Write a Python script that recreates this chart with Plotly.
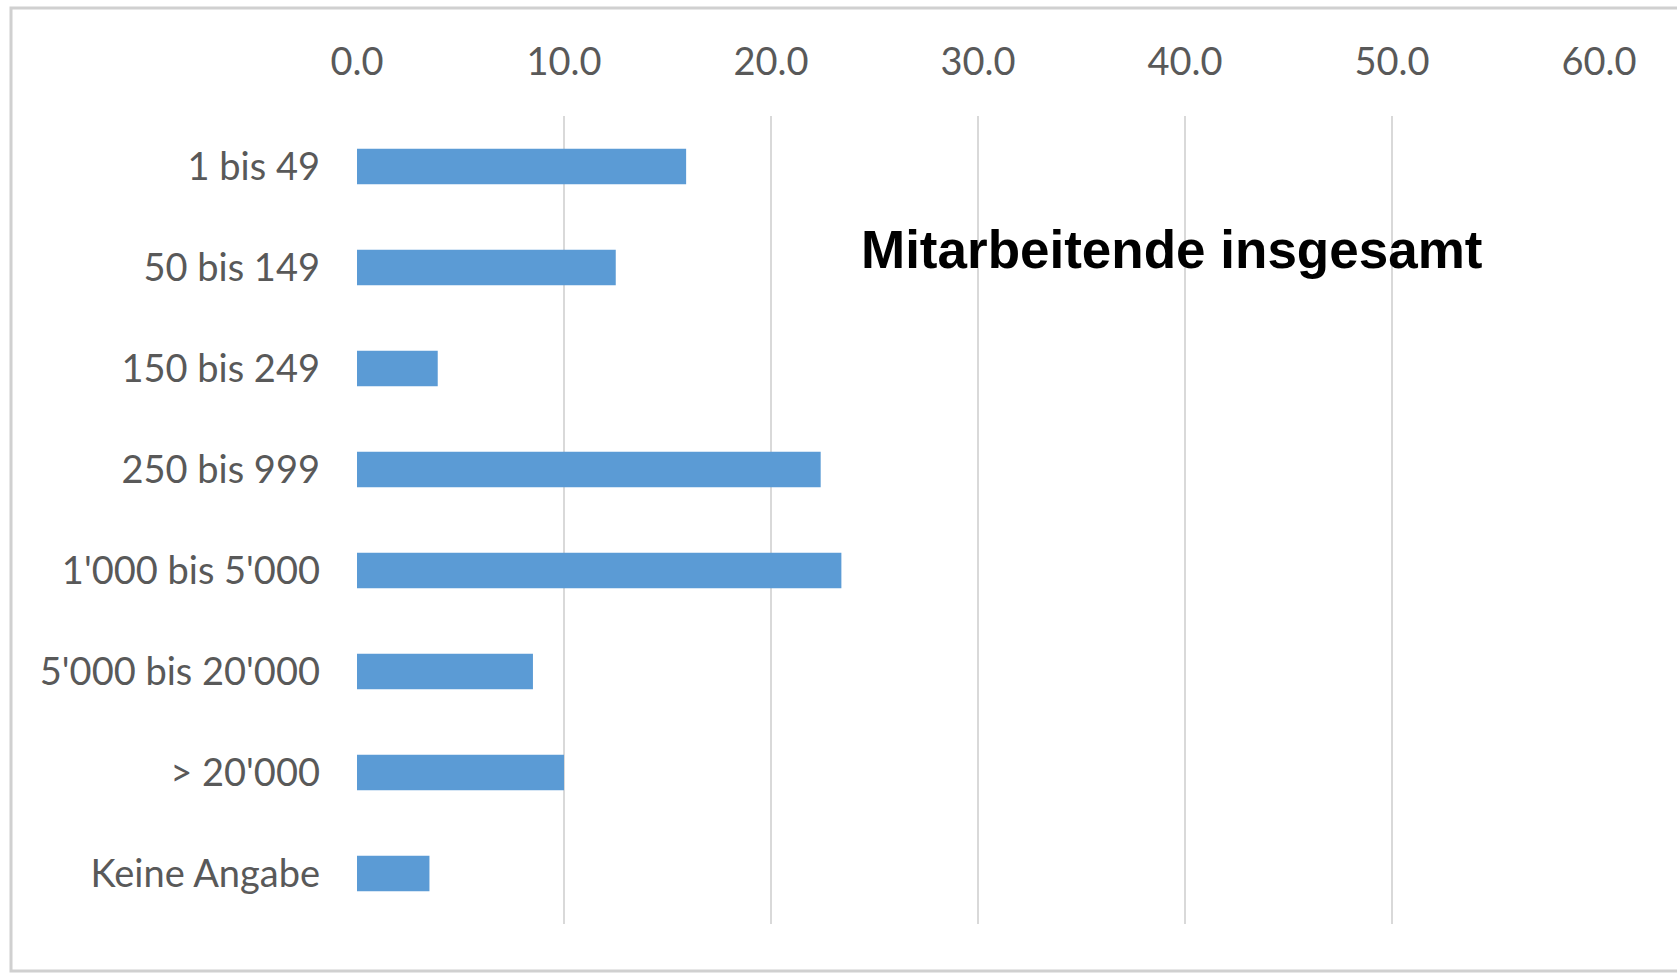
import plotly.graph_objects as go

# Share of respondents by total headcount of the organisation (%)
categories = [
    "1 bis 49",
    "50 bis 149",
    "150 bis 249",
    "250 bis 999",
    "1'000 bis 5'000",
    "5'000 bis 20'000",
    "> 20'000",
    "Keine Angabe",
]
shares = [15.9, 12.5, 3.9, 22.4, 23.4, 8.5, 10.0, 3.5]
x_ticks = [0, 10, 20, 30, 40, 50, 60]
chart_title = "Mitarbeitende insgesamt"

W, H = 1677, 973
L, R, T, B = 357, 78, 116, 49
pw, ph = W - L - R, H - T - B


def px_to_paper(xp, yp):
    return (xp - L) / pw, (H - B - yp) / ph


fig = go.Figure(
    go.Bar(
        x=shares,
        y=categories,
        orientation="h",
        marker=dict(color="#5B9BD5", line=dict(width=0)),
        width=0.35,
        hoverinfo="x+y",
    )
)

grey = "#595959"
fig.update_layout(
    width=W,
    height=H,
    margin=dict(l=L, r=R, t=T, b=B, pad=0),
    paper_bgcolor="white",
    plot_bgcolor="white",
    showlegend=False,
    font=dict(family="Lato, 'Open Sans', sans-serif", size=38, color=grey),
    xaxis=dict(
        side="top",
        range=[0, 60],
        tickvals=x_ticks,
        tickformat=".1f",
        showgrid=True,
        gridcolor="#D9D9D9",
        gridwidth=1.5,
        zeroline=False,
        showline=False,
        ticks="",
        ticklabelstandoff=32,
        tickfont=dict(size=38, color=grey),
        fixedrange=True,
    ),
    yaxis=dict(
        autorange="reversed",
        showgrid=False,
        zeroline=False,
        showline=False,
        ticks="",
        ticklabelstandoff=36,
        tickfont=dict(size=38, color=grey),
        fixedrange=True,
    ),
)

# Outer chart frame
fx0, fy0 = px_to_paper(11, 8)
fx1, fy1 = px_to_paper(1710, 971)
fig.add_shape(
    type="rect",
    xref="paper",
    yref="paper",
    x0=fx0,
    x1=fx1,
    y0=fy1,
    y1=fy0,
    line=dict(color="#D0D0D0", width=3),
    fillcolor="rgba(0,0,0,0)",
    layer="below",
)

tx, ty = px_to_paper(859, 249)
fig.add_annotation(
    text=chart_title,
    xref="paper",
    yref="paper",
    x=tx,
    y=ty,
    xanchor="left",
    yanchor="middle",
    showarrow=False,
    font=dict(family="'Liberation Sans', Arial, sans-serif", size=53, color="black", weight="bold"),
)

fig.write_html("out.html")
